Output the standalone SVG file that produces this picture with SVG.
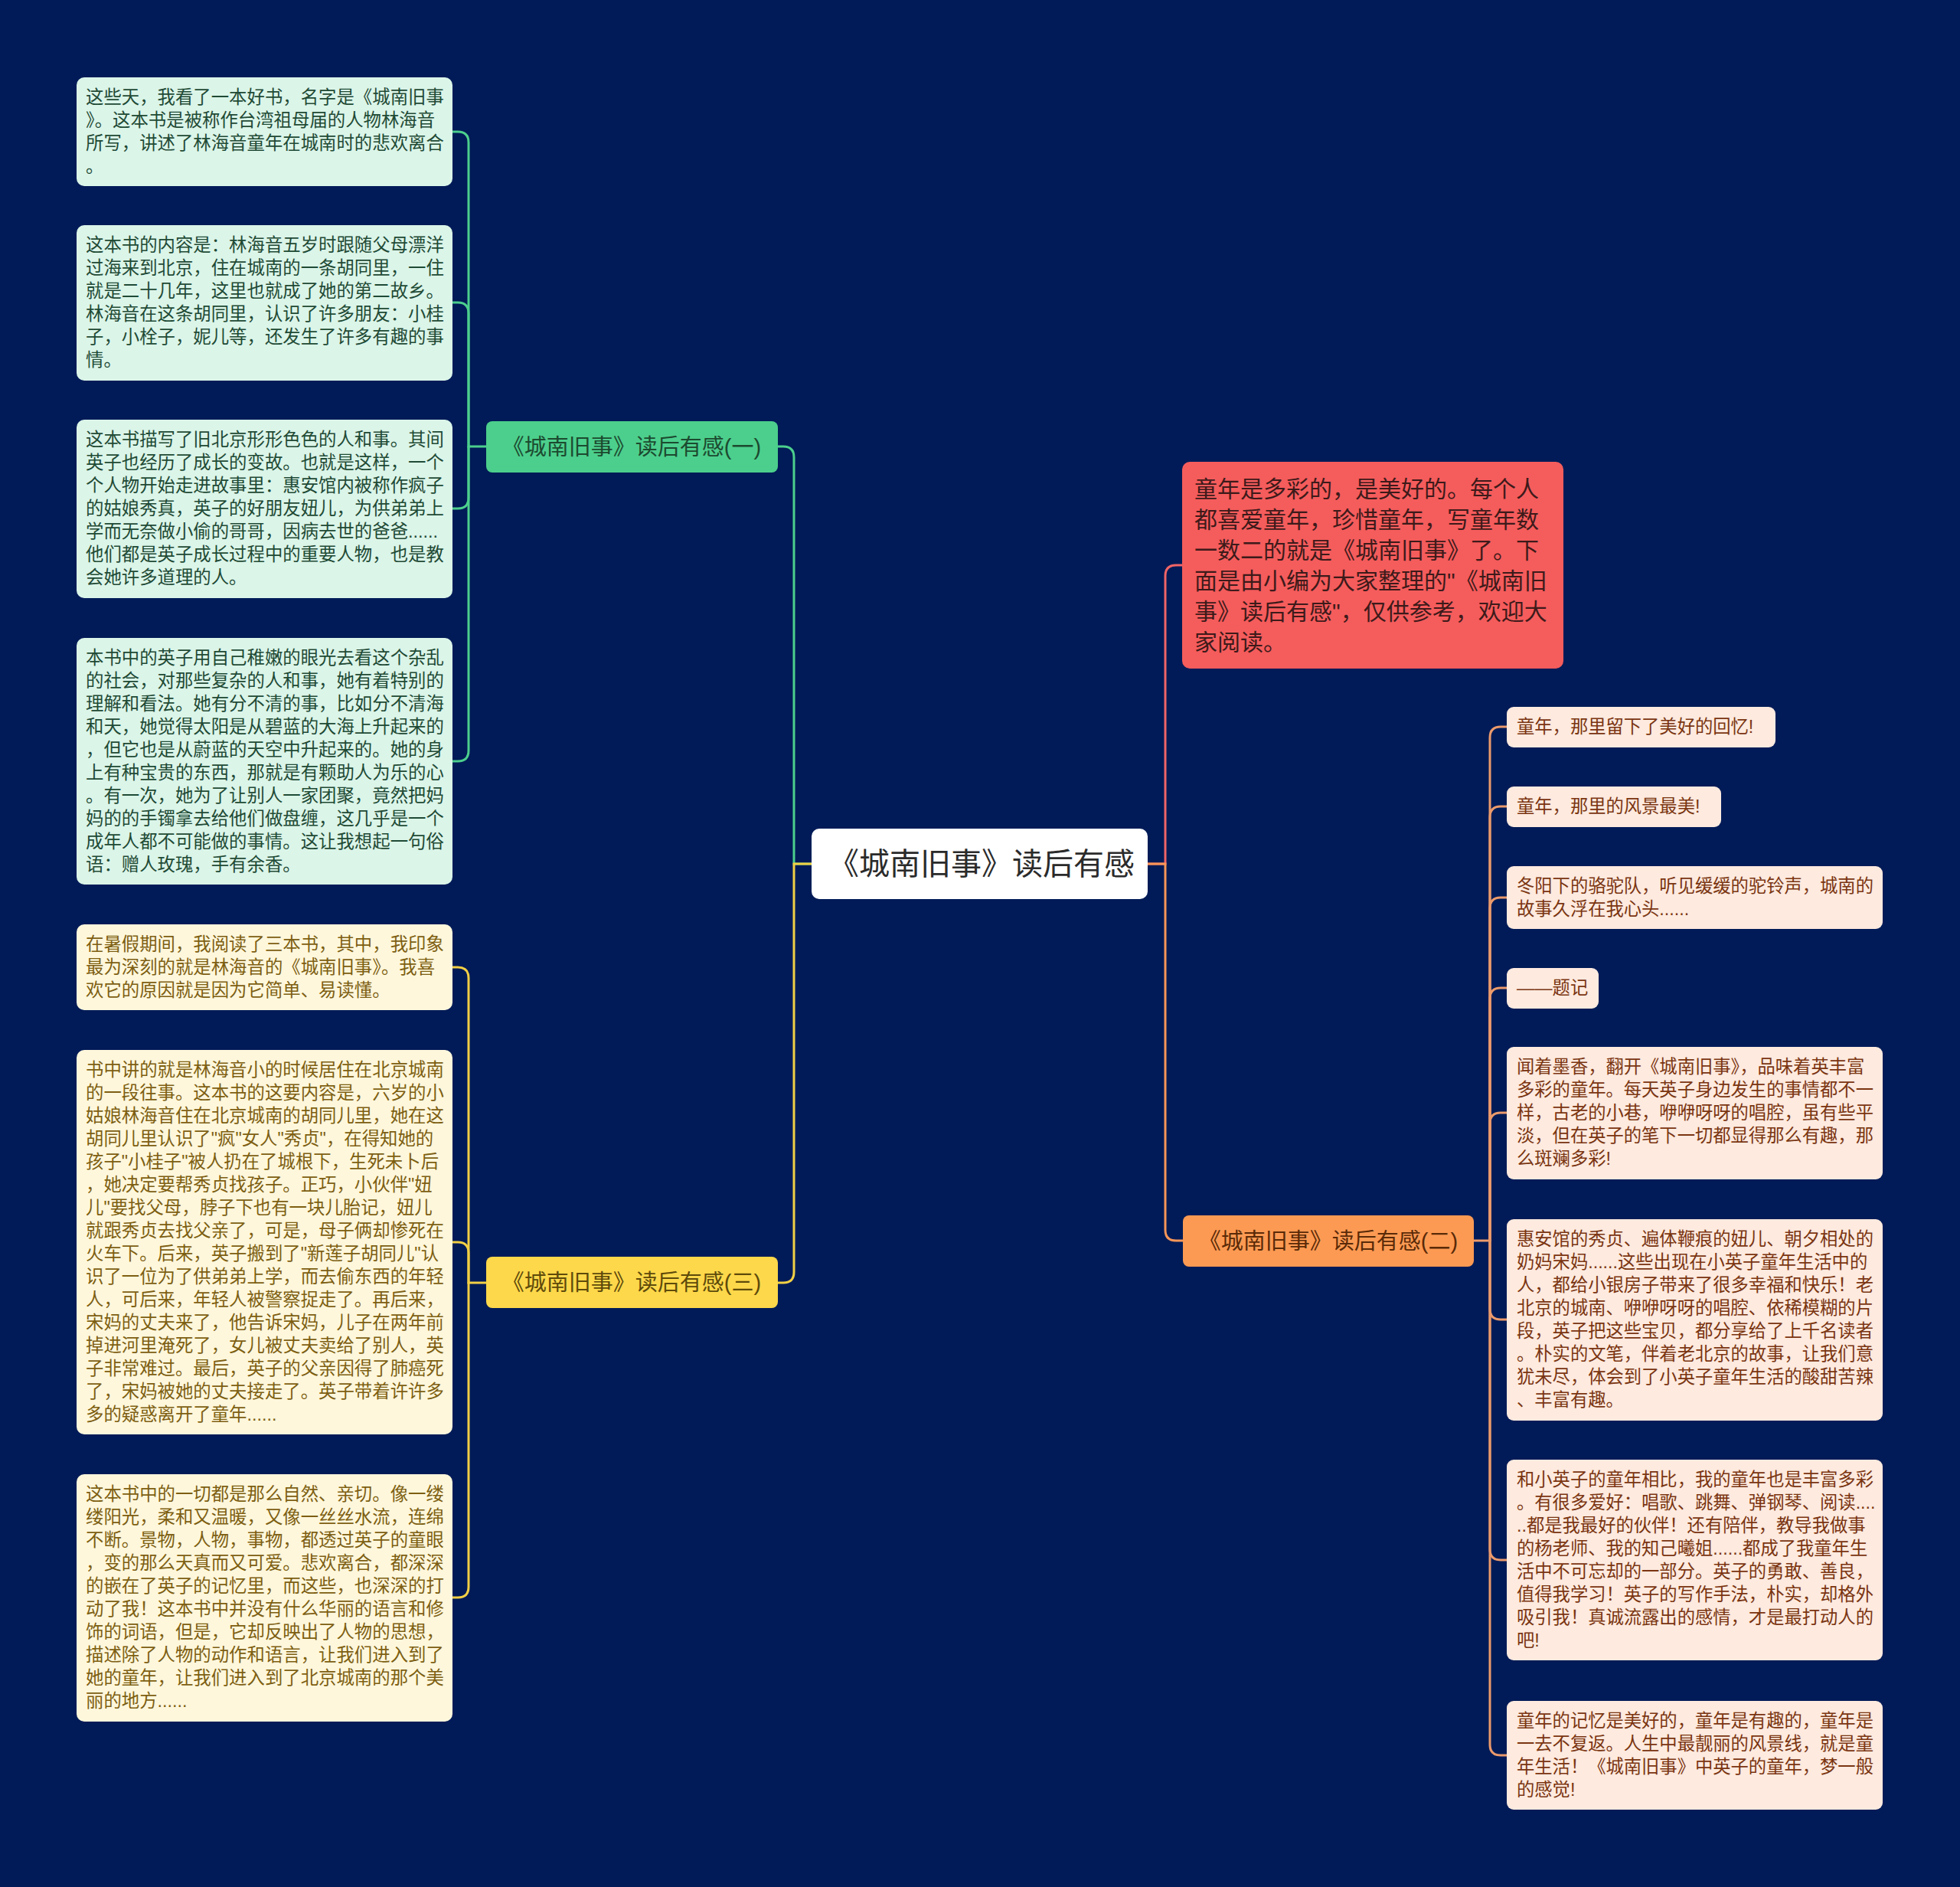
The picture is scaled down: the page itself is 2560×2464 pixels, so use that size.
<svg xmlns="http://www.w3.org/2000/svg" width="2560" height="2464" viewBox="0 0 2560 2464">
<defs>
<style>
text{font-family:"Liberation Sans","Noto Sans CJK SC",sans-serif;}
.c{fill:none;stroke-width:3;stroke-linecap:round;}
.g{stroke:#4ccf8d;}
.y{stroke:#f2cf45;}
.r{stroke:#f06466;}
.o{stroke:#f89658;}
.p{stroke:#eb9a6c;}
.lg rect{fill:#dbf5e9;}
.lg text{fill:#1f4a35;font-size:23.4px;}
.ly rect{fill:#fff7dc;}
.ly text{fill:#7d5f12;font-size:23.4px;}
.lr rect{fill:#feeadf;}
.lr text{fill:#7a3511;font-size:23.3px;}
.b text{font-size:29px;text-anchor:middle;}
</style>
</defs>
<rect width="2560" height="2464" fill="#001b57"/>

<g id="connectors">
<path class="c g" d="M1060,1128 H1037 V597 Q1037,583 1023,583 H1016"/>
<path class="c y" d="M1060,1128 H1037 V1661 Q1037,1675 1023,1675 H1016"/>
<path class="c r" d="M1499,1128 H1522 V752 Q1522,738 1536,738 H1544"/>
<path class="c o" d="M1499,1128 H1522 V1606 Q1522,1620 1536,1620 H1545"/>
<path class="c g" d="M635,583 H612 V186 Q612,172 598,172 H591"/>
<path class="c g" d="M612,583 V409 Q612,395 598,395 H591"/>
<path class="c g" d="M612,583 V650 Q612,664 598,664 H591"/>
<path class="c g" d="M612,583 V980 Q612,994 598,994 H591"/>
<path class="c y" d="M635,1675 H612 V1277 Q612,1263 598,1263 H591"/>
<path class="c y" d="M612,1675 V1636 Q612,1622 598,1622 H591"/>
<path class="c y" d="M612,1675 V2072 Q612,2086 598,2086 H591"/>
<path class="c p" d="M1925,1620 H1946 V963 Q1946,949 1960,949 H1968"/>
<path class="c p" d="M1946,1620 V1067 Q1946,1053 1960,1053 H1968"/>
<path class="c p" d="M1946,1620 V1186 Q1946,1172 1960,1172 H1968"/>
<path class="c p" d="M1946,1620 V1304 Q1946,1290 1960,1290 H1968"/>
<path class="c p" d="M1946,1620 V1467 Q1946,1453 1960,1453 H1968"/>
<path class="c p" d="M1946,1620 V1709 Q1946,1723 1960,1723 H1968"/>
<path class="c p" d="M1946,1620 V2023 Q1946,2037 1960,2037 H1968"/>
<path class="c p" d="M1946,1620 V2278 Q1946,2292 1960,2292 H1968"/>
</g>

<g id="root">
<rect x="1060" y="1082" width="439" height="92" rx="10" fill="#ffffff"/>
<text x="1282" y="1142" font-size="40" text-anchor="middle" fill="#2b2b2b">《城南旧事》读后有感</text>
</g>

<g id="branch1" class="b">
<rect x="635" y="550" width="381" height="67" rx="8" fill="#4ccf8c"/>
<text x="825" y="594" fill="#1c4a30">《城南旧事》读后有感(一)</text>
</g>
<g id="branch3" class="b">
<rect x="635" y="1641" width="381" height="67" rx="8" fill="#fdd84a"/>
<text x="825" y="1685" fill="#5e4a0b">《城南旧事》读后有感(三)</text>
</g>
<g id="branch2" class="b">
<rect x="1545" y="1587" width="380" height="67" rx="8" fill="#fc9a53"/>
<text x="1735" y="1631" fill="#5a2a08">《城南旧事》读后有感(二)</text>
</g>

<g id="intro">
<rect x="1544" y="603" width="498" height="270" rx="10" fill="#f55c5c"/>
<g font-size="30" fill="#3d1a1a">
<text x="1560" y="649">童年是多彩的，是美好的。每个人</text>
<text x="1560" y="689">都喜爱童年，珍惜童年，写童年数</text>
<text x="1560" y="729">一数二的就是《城南旧事》了。下</text>
<text x="1560" y="769">面是由小编为大家整理的"《城南旧</text>
<text x="1560" y="809">事》读后有感"，仅供参考，欢迎大</text>
<text x="1560" y="849">家阅读。</text>
</g>
</g>

<g id="leaf1-1" class="lg">
<rect x="100" y="101" width="491" height="142" rx="10"/>
<text x="112" y="135">这些天，我看了一本好书，名字是《城南旧事</text>
<text x="112" y="165">》。这本书是被称作台湾祖母届的人物林海音</text>
<text x="112" y="195">所写，讲述了林海音童年在城南时的悲欢离合</text>
<text x="112" y="225">。</text>
</g>
<g id="leaf1-2" class="lg">
<rect x="100" y="294" width="491" height="203" rx="10"/>
<text x="112" y="328">这本书的内容是：林海音五岁时跟随父母漂洋</text>
<text x="112" y="358">过海来到北京，住在城南的一条胡同里，一住</text>
<text x="112" y="388">就是二十几年，这里也就成了她的第二故乡。</text>
<text x="112" y="418">林海音在这条胡同里，认识了许多朋友：小桂</text>
<text x="112" y="448">子，小栓子，妮儿等，还发生了许多有趣的事</text>
<text x="112" y="478">情。</text>
</g>
<g id="leaf1-3" class="lg">
<rect x="100" y="548" width="491" height="233" rx="10"/>
<text x="112" y="582">这本书描写了旧北京形形色色的人和事。其间</text>
<text x="112" y="612">英子也经历了成长的变故。也就是这样，一个</text>
<text x="112" y="642">个人物开始走进故事里：惠安馆内被称作疯子</text>
<text x="112" y="672">的姑娘秀真，英子的好朋友妞儿，为供弟弟上</text>
<text x="112" y="702">学而无奈做小偷的哥哥，因病去世的爸爸......</text>
<text x="112" y="732">他们都是英子成长过程中的重要人物，也是教</text>
<text x="112" y="762">会她许多道理的人。</text>
</g>
<g id="leaf1-4" class="lg">
<rect x="100" y="833" width="491" height="322" rx="10"/>
<text x="112" y="867">本书中的英子用自己稚嫩的眼光去看这个杂乱</text>
<text x="112" y="897">的社会，对那些复杂的人和事，她有着特别的</text>
<text x="112" y="927">理解和看法。她有分不清的事，比如分不清海</text>
<text x="112" y="957">和天，她觉得太阳是从碧蓝的大海上升起来的</text>
<text x="112" y="987">，但它也是从蔚蓝的天空中升起来的。她的身</text>
<text x="112" y="1017">上有种宝贵的东西，那就是有颗助人为乐的心</text>
<text x="112" y="1047">。有一次，她为了让别人一家团聚，竟然把妈</text>
<text x="112" y="1077">妈的的手镯拿去给他们做盘缠，这几乎是一个</text>
<text x="112" y="1107">成年人都不可能做的事情。这让我想起一句俗</text>
<text x="112" y="1137">语：赠人玫瑰，手有余香。</text>
</g>

<g id="leaf3-1" class="ly">
<rect x="100" y="1207" width="491" height="112" rx="10"/>
<text x="112" y="1241">在暑假期间，我阅读了三本书，其中，我印象</text>
<text x="112" y="1271">最为深刻的就是林海音的《城南旧事》。我喜</text>
<text x="112" y="1301">欢它的原因就是因为它简单、易读懂。</text>
</g>
<g id="leaf3-2" class="ly">
<rect x="100" y="1371" width="491" height="502" rx="10"/>
<text x="112" y="1405">书中讲的就是林海音小的时候居住在北京城南</text>
<text x="112" y="1435">的一段往事。这本书的这要内容是，六岁的小</text>
<text x="112" y="1465">姑娘林海音住在北京城南的胡同儿里，她在这</text>
<text x="112" y="1495">胡同儿里认识了"疯"女人"秀贞"，在得知她的</text>
<text x="112" y="1525">孩子"小桂子"被人扔在了城根下，生死未卜后</text>
<text x="112" y="1555">，她决定要帮秀贞找孩子。正巧，小伙伴"妞</text>
<text x="112" y="1585">儿"要找父母，脖子下也有一块儿胎记，妞儿</text>
<text x="112" y="1615">就跟秀贞去找父亲了，可是，母子俩却惨死在</text>
<text x="112" y="1645">火车下。后来，英子搬到了"新莲子胡同儿"认</text>
<text x="112" y="1675">识了一位为了供弟弟上学，而去偷东西的年轻</text>
<text x="112" y="1705">人，可后来，年轻人被警察捉走了。再后来，</text>
<text x="112" y="1735">宋妈的丈夫来了，他告诉宋妈，儿子在两年前</text>
<text x="112" y="1765">掉进河里淹死了，女儿被丈夫卖给了别人，英</text>
<text x="112" y="1795">子非常难过。最后，英子的父亲因得了肺癌死</text>
<text x="112" y="1825">了，宋妈被她的丈夫接走了。英子带着许许多</text>
<text x="112" y="1855">多的疑惑离开了童年......</text>
</g>
<g id="leaf3-3" class="ly">
<rect x="100" y="1925" width="491" height="323" rx="10"/>
<text x="112" y="1959">这本书中的一切都是那么自然、亲切。像一缕</text>
<text x="112" y="1989">缕阳光，柔和又温暖，又像一丝丝水流，连绵</text>
<text x="112" y="2019">不断。景物，人物，事物，都透过英子的童眼</text>
<text x="112" y="2049">，变的那么天真而又可爱。悲欢离合，都深深</text>
<text x="112" y="2079">的嵌在了英子的记忆里，而这些，也深深的打</text>
<text x="112" y="2109">动了我！这本书中并没有什么华丽的语言和修</text>
<text x="112" y="2139">饰的词语，但是，它却反映出了人物的思想，</text>
<text x="112" y="2169">描述除了人物的动作和语言，让我们进入到了</text>
<text x="112" y="2199">她的童年，让我们进入到了北京城南的那个美</text>
<text x="112" y="2229">丽的地方......</text>
</g>

<g id="leaf2-1" class="lr">
<rect x="1968" y="923" width="351" height="53" rx="9"/>
<text x="1981" y="957">童年，那里留下了美好的回忆!</text>
</g>
<g id="leaf2-2" class="lr">
<rect x="1968" y="1027" width="280" height="53" rx="9"/>
<text x="1981" y="1061">童年，那里的风景最美!</text>
</g>
<g id="leaf2-3" class="lr">
<rect x="1968" y="1131" width="491" height="82" rx="9"/>
<text x="1981" y="1165">冬阳下的骆驼队，听见缓缓的驼铃声，城南的</text>
<text x="1981" y="1195">故事久浮在我心头......</text>
</g>
<g id="leaf2-4" class="lr">
<rect x="1968" y="1264" width="120" height="53" rx="9"/>
<text x="1981" y="1298">——题记</text>
</g>
<g id="leaf2-5" class="lr">
<rect x="1968" y="1367" width="491" height="173" rx="9"/>
<text x="1981" y="1401">闻着墨香，翻开《城南旧事》，品味着英丰富</text>
<text x="1981" y="1431">多彩的童年。每天英子身边发生的事情都不一</text>
<text x="1981" y="1461">样，古老的小巷，咿咿呀呀的唱腔，虽有些平</text>
<text x="1981" y="1491">淡，但在英子的笔下一切都显得那么有趣，那</text>
<text x="1981" y="1521">么斑斓多彩!</text>
</g>
<g id="leaf2-6" class="lr">
<rect x="1968" y="1592" width="491" height="263" rx="9"/>
<text x="1981" y="1626">惠安馆的秀贞、遍体鞭痕的妞儿、朝夕相处的</text>
<text x="1981" y="1656">奶妈宋妈......这些出现在小英子童年生活中的</text>
<text x="1981" y="1686">人，都给小银房子带来了很多幸福和快乐！老</text>
<text x="1981" y="1716">北京的城南、咿咿呀呀的唱腔、依稀模糊的片</text>
<text x="1981" y="1746">段，英子把这些宝贝，都分享给了上千名读者</text>
<text x="1981" y="1776">。朴实的文笔，伴着老北京的故事，让我们意</text>
<text x="1981" y="1806">犹未尽，体会到了小英子童年生活的酸甜苦辣</text>
<text x="1981" y="1836">、丰富有趣。</text>
</g>
<g id="leaf2-7" class="lr">
<rect x="1968" y="1906" width="491" height="262" rx="9"/>
<text x="1981" y="1940">和小英子的童年相比，我的童年也是丰富多彩</text>
<text x="1981" y="1970">。有很多爱好：唱歌、跳舞、弹钢琴、阅读....</text>
<text x="1981" y="2000">..都是我最好的伙伴！还有陪伴，教导我做事</text>
<text x="1981" y="2030">的杨老师、我的知己曦姐......都成了我童年生</text>
<text x="1981" y="2060">活中不可忘却的一部分。英子的勇敢、善良，</text>
<text x="1981" y="2090">值得我学习！英子的写作手法，朴实，却格外</text>
<text x="1981" y="2120">吸引我！真诚流露出的感情，才是最打动人的</text>
<text x="1981" y="2150">吧!</text>
</g>
<g id="leaf2-8" class="lr">
<rect x="1968" y="2221" width="491" height="142" rx="9"/>
<text x="1981" y="2255">童年的记忆是美好的，童年是有趣的，童年是</text>
<text x="1981" y="2285">一去不复返。人生中最靓丽的风景线，就是童</text>
<text x="1981" y="2315">年生活！《城南旧事》中英子的童年，梦一般</text>
<text x="1981" y="2345">的感觉!</text>
</g>
</svg>
